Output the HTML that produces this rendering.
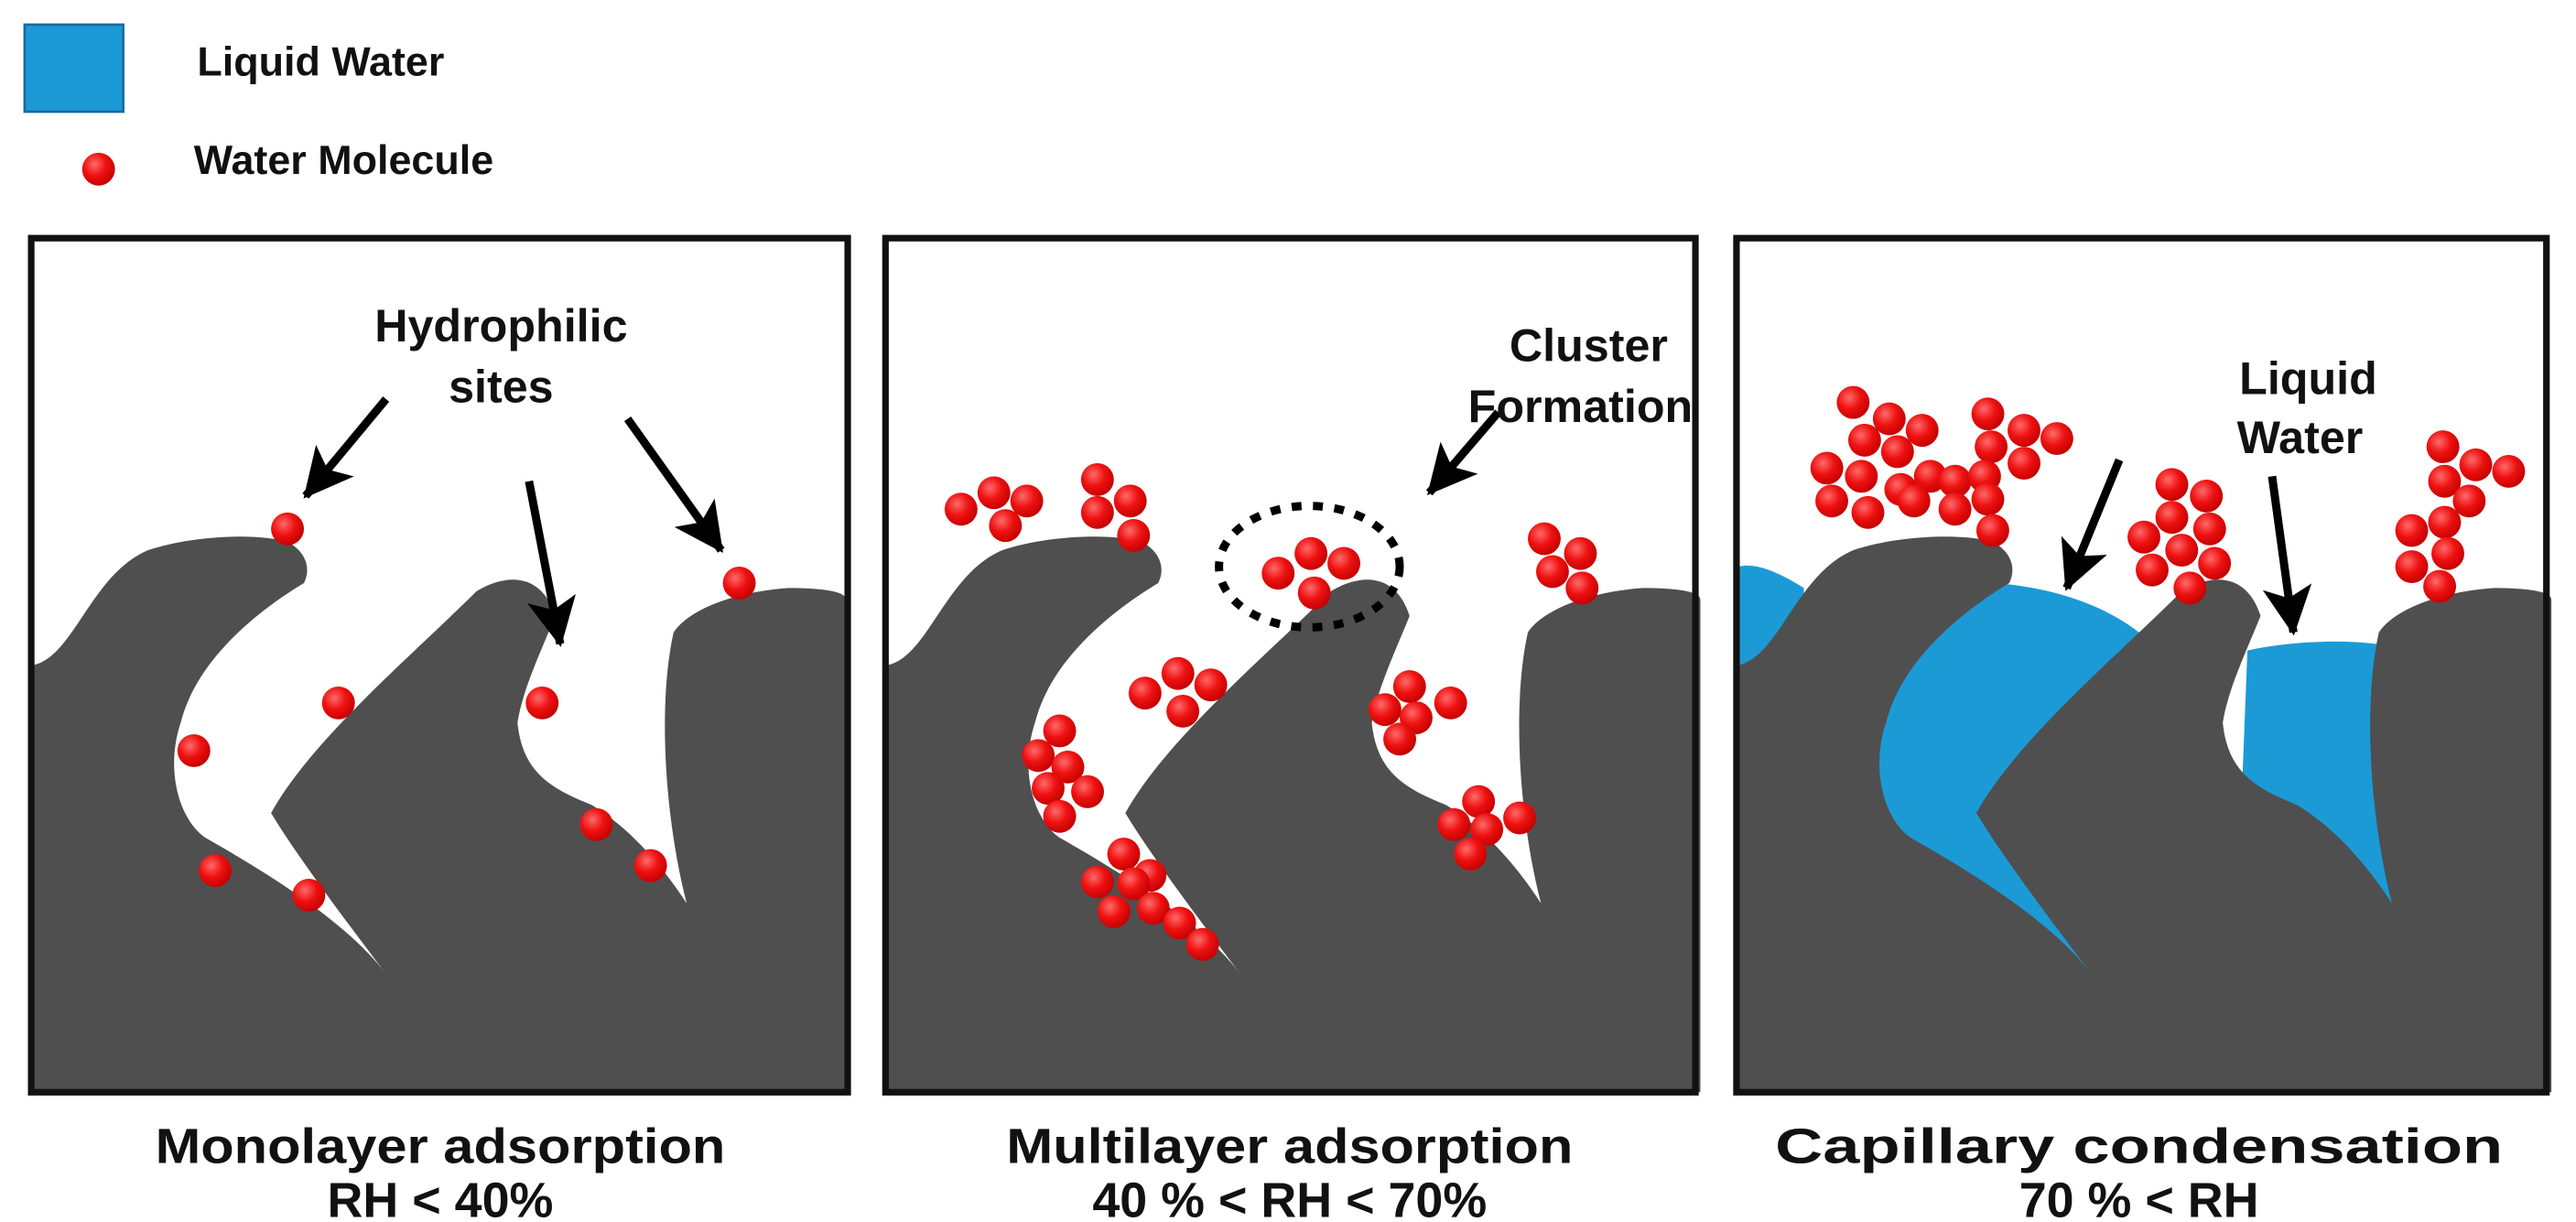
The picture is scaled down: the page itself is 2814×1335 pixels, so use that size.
<!DOCTYPE html>
<html><head><meta charset="utf-8"><style>
html,body{margin:0;padding:0;background:#fff;}
svg{display:block;}
text{font-family:"Liberation Sans",sans-serif;font-weight:bold;fill:#111;}
</style></head><body>
<svg width="2814" height="1335" viewBox="0 0 1568 744" preserveAspectRatio="none" xmlns="http://www.w3.org/2000/svg">
<defs>
<radialGradient id="g" cx="0.38" cy="0.35" r="0.7">
<stop offset="0" stop-color="#ff6a6a"/><stop offset="0.5" stop-color="#ee1111"/><stop offset="1" stop-color="#c00000"/>
</radialGradient>
<marker id="ah" markerUnits="userSpaceOnUse" markerWidth="34" markerHeight="34" refX="28" refY="17" orient="auto">
<path d="M0,2 L30,17 L0,32 L7,17 Z" fill="#000"/>
</marker>
<path id="terrain" d="M20,665 L20,405 C45,400 55,350 90,335 C120,325 160,325 175,330 C185,335 190,345 185,355 C160,370 120,400 110,440 C100,470 110,500 125,510 C160,530 210,560 235,593 C210,560 180,520 165,495 C190,450 250,400 290,360 C310,348 330,350 338,375 C330,395 318,420 315,440 C318,470 335,480 360,490 C385,505 405,530 418,550 C405,500 400,430 410,385 C420,370 450,360 480,358 C500,358 515,360 515,365 L515,665 Z" fill="#4f4f4f"/>
</defs>

<!-- legend -->
<rect x="15" y="15" width="60" height="53" fill="#1b9ad6" stroke="#1a6aa0" stroke-width="1.5"/>
<text x="120" y="46" font-size="25">Liquid Water</text>
<circle cx="60" cy="103" r="10" fill="url(#g)"/>
<text x="118" y="106" font-size="25">Water Molecule</text>

<!-- panel 1 -->
<use href="#terrain"/>
<rect x="19" y="145" width="497" height="520" fill="none" stroke="#111" stroke-width="4"/>
<g fill="url(#g)">
<circle cx="175" cy="322" r="10"/><circle cx="450" cy="355" r="10"/><circle cx="206" cy="428" r="10"/><circle cx="330" cy="428" r="10"/><circle cx="118" cy="457" r="10"/><circle cx="131" cy="530" r="10"/><circle cx="188" cy="545" r="10"/><circle cx="363" cy="502" r="10"/><circle cx="396" cy="527" r="10"/>
</g>
<g stroke="#000" stroke-width="5" marker-end="url(#ah)">
<line x1="235" y1="243" x2="186" y2="302"/>
<line x1="322" y1="293" x2="341" y2="392"/>
<line x1="382" y1="255" x2="439" y2="335"/>
</g>
<text x="305" y="208" font-size="28" text-anchor="middle">Hydrophilic</text>
<text x="305" y="245" font-size="28" text-anchor="middle">sites</text>
<text x="268" y="708" font-size="30" text-anchor="middle" textLength="347" lengthAdjust="spacingAndGlyphs">Monolayer adsorption</text>
<text x="268" y="741" font-size="30" text-anchor="middle">RH &lt; 40%</text>

<!-- panel 2 -->
<use href="#terrain" transform="translate(520,0)"/>
<rect x="539" y="145" width="493" height="520" fill="none" stroke="#111" stroke-width="4"/>
<ellipse cx="797" cy="345" rx="55" ry="37" fill="none" stroke="#000" stroke-width="5" stroke-dasharray="6,7"/>
<g fill="url(#g)">
<circle cx="585" cy="310" r="10"/><circle cx="605" cy="300" r="10"/><circle cx="625" cy="305" r="10"/><circle cx="612" cy="320" r="10"/>
<circle cx="668" cy="292" r="10"/><circle cx="668" cy="312" r="10"/><circle cx="688" cy="305" r="10"/><circle cx="690" cy="326" r="10"/>
<circle cx="778" cy="349" r="10"/><circle cx="798" cy="337" r="10"/><circle cx="818" cy="343" r="10"/><circle cx="800" cy="361" r="10"/>
<circle cx="940" cy="328" r="10"/><circle cx="962" cy="337" r="10"/><circle cx="945" cy="348" r="10"/><circle cx="963" cy="358" r="10"/>
<circle cx="697" cy="422" r="10"/><circle cx="717" cy="410" r="10"/><circle cx="737" cy="417" r="10"/><circle cx="720" cy="433" r="10"/>
<circle cx="645" cy="445" r="10"/><circle cx="632" cy="460" r="10"/><circle cx="650" cy="467" r="10"/><circle cx="638" cy="480" r="10"/><circle cx="662" cy="482" r="10"/><circle cx="645" cy="497" r="10"/>
<circle cx="684" cy="520" r="10"/><circle cx="668" cy="537" r="10"/><circle cx="700" cy="533" r="10"/><circle cx="690" cy="538" r="10"/><circle cx="678" cy="555" r="10"/><circle cx="702" cy="553" r="10"/><circle cx="718" cy="562" r="10"/><circle cx="732" cy="575" r="10"/>
<circle cx="858" cy="418" r="10"/><circle cx="843" cy="432" r="10"/><circle cx="883" cy="428" r="10"/><circle cx="862" cy="437" r="10"/><circle cx="852" cy="450" r="10"/>
<circle cx="900" cy="488" r="10"/><circle cx="885" cy="502" r="10"/><circle cx="925" cy="498" r="10"/><circle cx="905" cy="505" r="10"/><circle cx="895" cy="520" r="10"/>
</g>
<line x1="912" y1="251" x2="870" y2="300" stroke="#000" stroke-width="5" marker-end="url(#ah)"/>
<text x="967" y="220" font-size="28" text-anchor="middle">Cluster</text>
<text x="962" y="257" font-size="28" text-anchor="middle">Formation</text>
<text x="785" y="708" font-size="30" text-anchor="middle" textLength="345" lengthAdjust="spacingAndGlyphs">Multilayer adsorption</text>
<text x="785" y="741" font-size="30" text-anchor="middle">40 % &lt; RH &lt; 70%</text>

<!-- panel 3 -->
<g fill="#1b9ad6">
<path d="M1215,355 C1250,358 1280,368 1302,385 L1302,600 L1120,600 L1120,420 Z"/>
<path d="M1368,396 C1400,389 1440,389 1462,395 L1462,600 L1360,600 Z"/>
<path d="M1058,345 C1070,342 1085,350 1098,358 L1098,412 L1058,412 Z"/>
</g>
<use href="#terrain" transform="translate(1038,0)"/>
<rect x="1057" y="145" width="493" height="520" fill="none" stroke="#111" stroke-width="4"/>
<g fill="url(#g)">
<circle cx="1128" cy="245" r="10"/><circle cx="1150" cy="255" r="10"/><circle cx="1170" cy="262" r="10"/><circle cx="1135" cy="268" r="10"/><circle cx="1155" cy="275" r="10"/><circle cx="1112" cy="285" r="10"/><circle cx="1175" cy="290" r="10"/><circle cx="1133" cy="290" r="10"/><circle cx="1157" cy="298" r="10"/><circle cx="1190" cy="293" r="10"/><circle cx="1115" cy="305" r="10"/><circle cx="1165" cy="305" r="10"/><circle cx="1137" cy="312" r="10"/>
<circle cx="1210" cy="252" r="10"/><circle cx="1232" cy="262" r="10"/><circle cx="1252" cy="267" r="10"/><circle cx="1212" cy="272" r="10"/><circle cx="1232" cy="282" r="10"/><circle cx="1208" cy="290" r="10"/><circle cx="1190" cy="310" r="10"/><circle cx="1210" cy="304" r="10"/><circle cx="1213" cy="323" r="10"/>
<circle cx="1322" cy="295" r="10"/><circle cx="1343" cy="302" r="10"/><circle cx="1322" cy="315" r="10"/><circle cx="1345" cy="322" r="10"/><circle cx="1305" cy="327" r="10"/><circle cx="1328" cy="335" r="10"/><circle cx="1348" cy="343" r="10"/><circle cx="1310" cy="347" r="10"/><circle cx="1333" cy="358" r="10"/>
<circle cx="1487" cy="272" r="10"/><circle cx="1507" cy="283" r="10"/><circle cx="1527" cy="287" r="10"/><circle cx="1488" cy="293" r="10"/><circle cx="1503" cy="305" r="10"/><circle cx="1468" cy="323" r="10"/><circle cx="1488" cy="318" r="10"/><circle cx="1490" cy="337" r="10"/><circle cx="1468" cy="345" r="10"/><circle cx="1485" cy="357" r="10"/>
</g>
<g stroke="#000" stroke-width="5" marker-end="url(#ah)">
<line x1="1290" y1="280" x2="1258" y2="358"/>
<line x1="1383" y1="290" x2="1396" y2="385"/>
</g>
<text x="1405" y="240" font-size="28" text-anchor="middle">Liquid</text>
<text x="1400" y="276" font-size="28" text-anchor="middle">Water</text>
<text x="1302" y="708" font-size="30" text-anchor="middle" textLength="443" lengthAdjust="spacingAndGlyphs">Capillary condensation</text>
<text x="1302" y="741" font-size="30" text-anchor="middle">70 % &lt; RH</text>
</svg>
</body></html>
